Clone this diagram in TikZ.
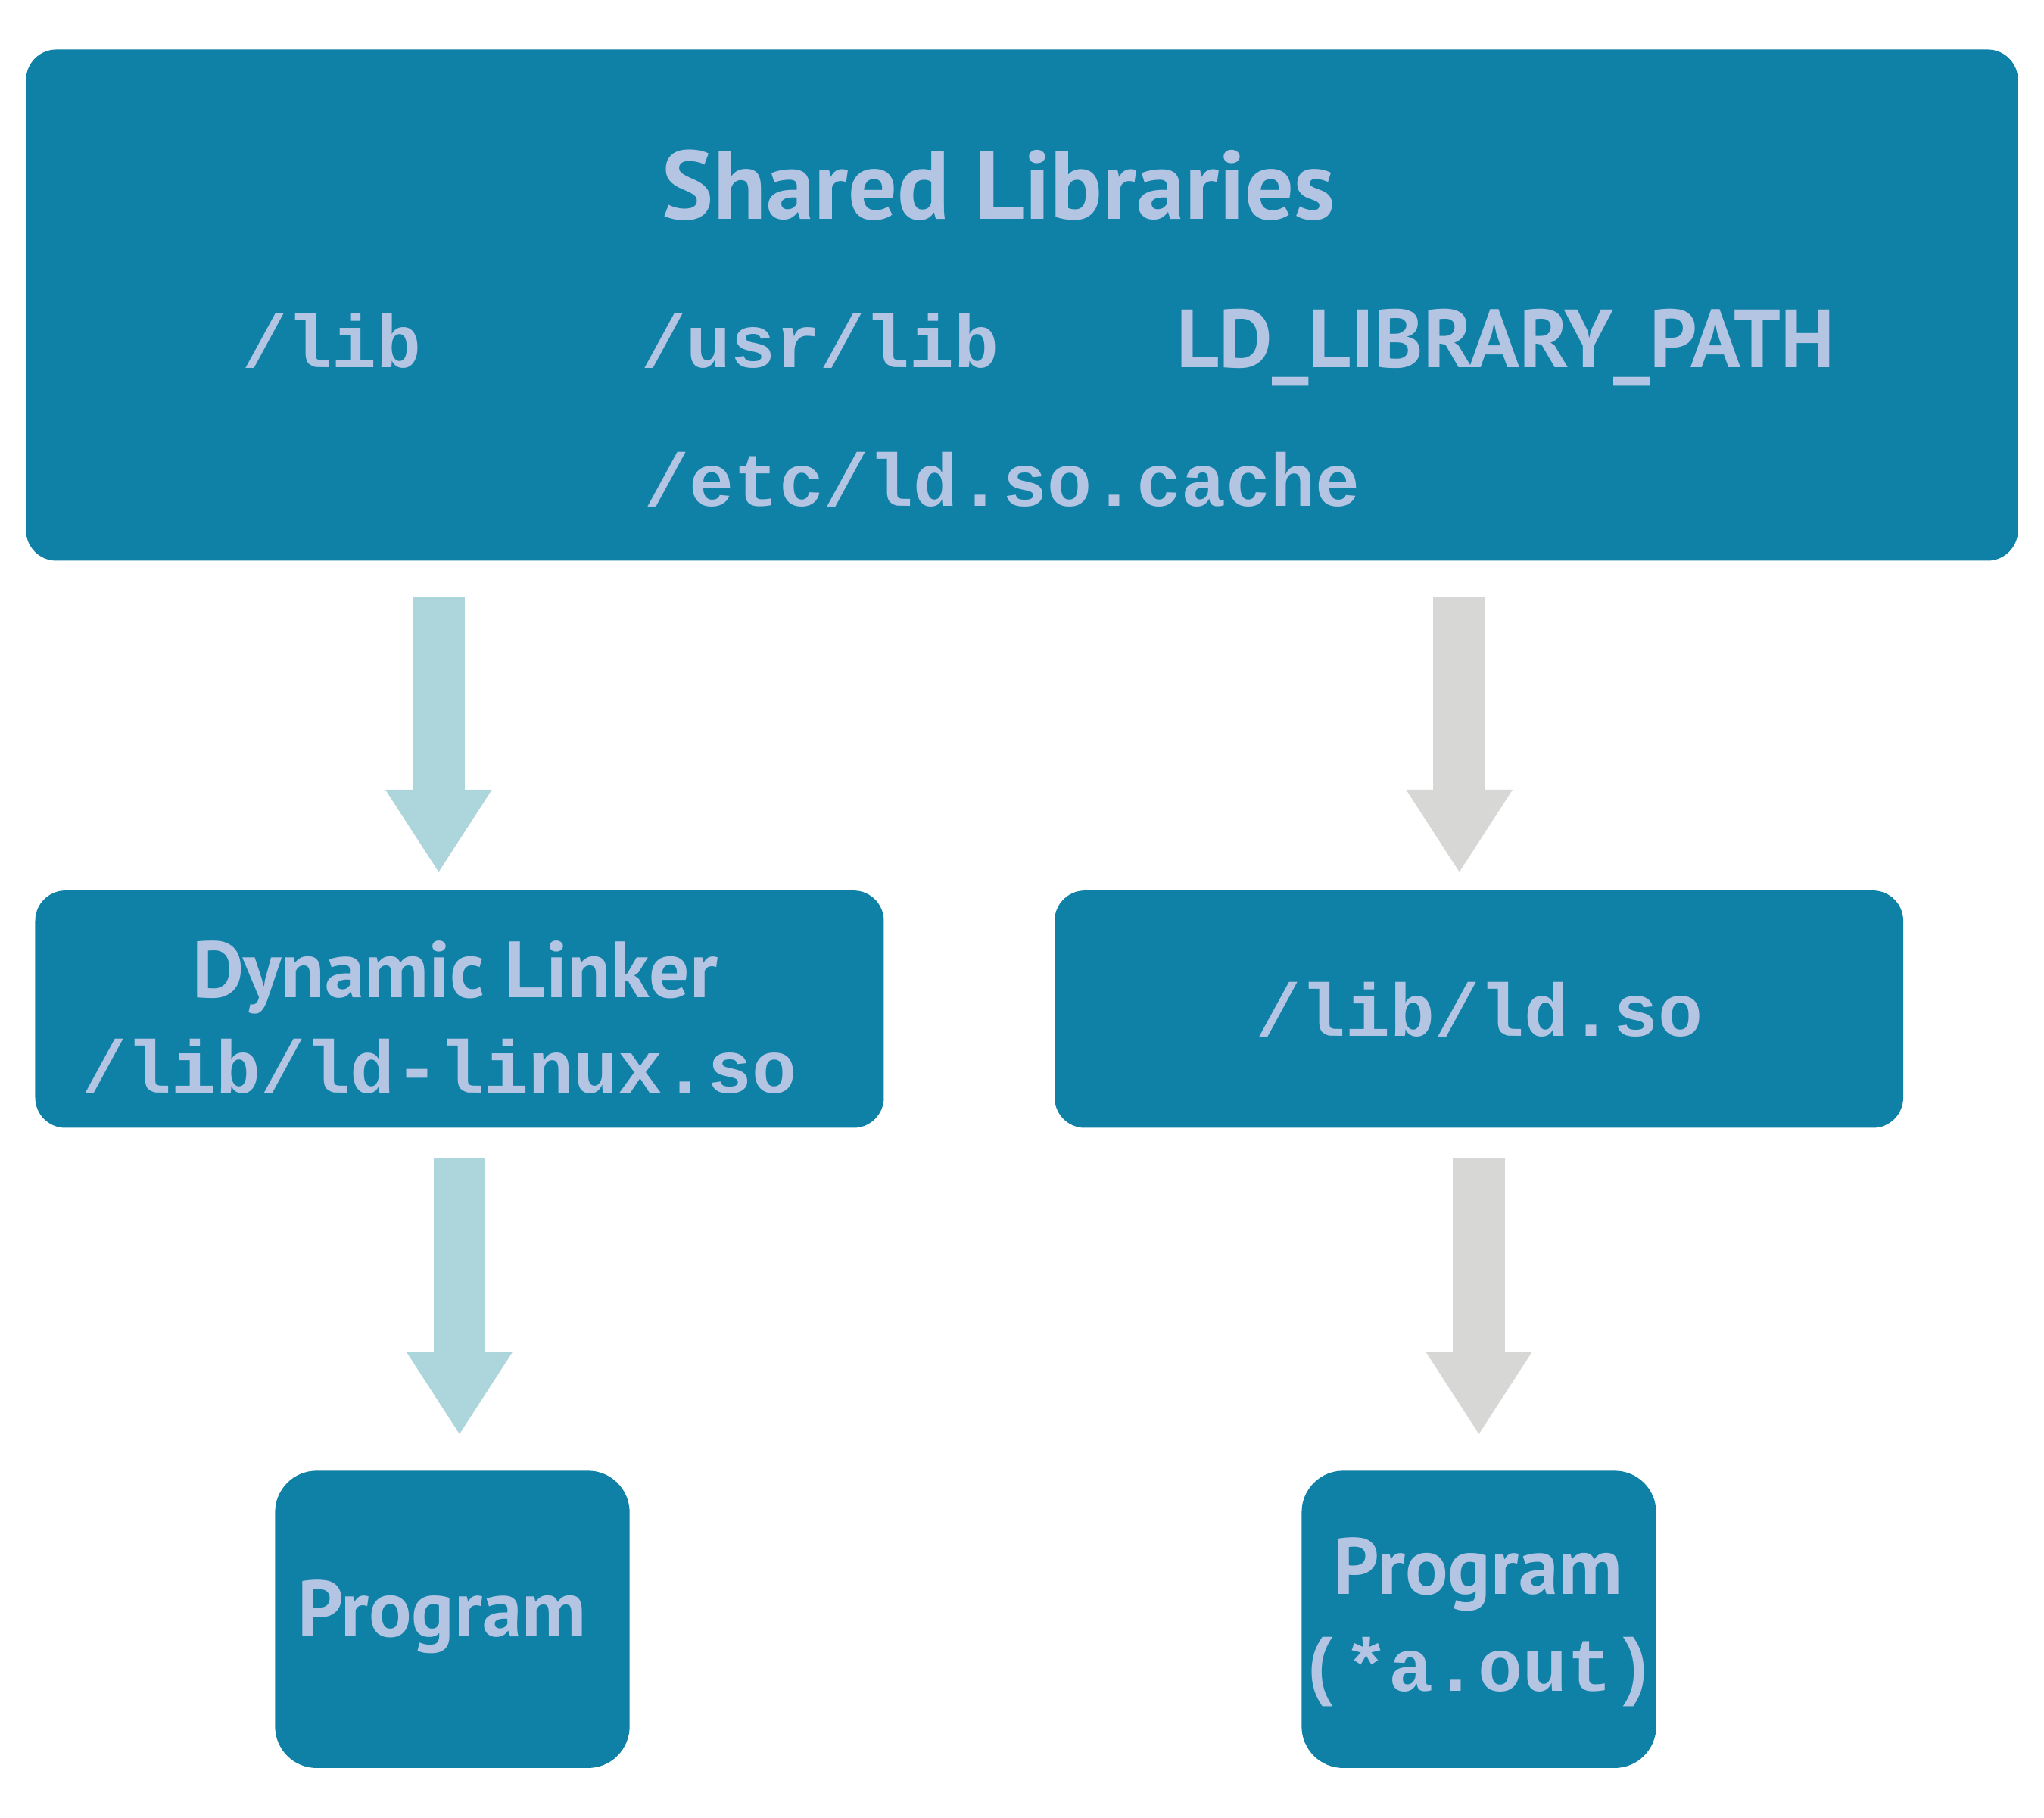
\documentclass[tikz,border=0pt]{standalone}
\usepackage{fontspec}
\newfontfamily\headfont{PT Sans}
\newfontfamily\codefont{Liberation Mono}
\usetikzlibrary{arrows.meta,positioning}
\definecolor{boxblue}{HTML}{0F81A6}
\definecolor{boxtext}{HTML}{B4C5E4}
\definecolor{arrteal}{HTML}{ACD6DB}
\definecolor{arrgray}{HTML}{D7D7D5}
\newcommand{\dpx}{0.01722cm}

\begin{document}
\begin{tikzpicture}[x=\dpx,y=-\dpx,
    box/.style={fill=boxblue,rounded corners=0.4cm,inner sep=0pt},
    head/.style={text=boxtext,anchor=base,inner sep=0pt,font=\headfont\bfseries\fontsize{30}{36}\selectfont},
    code/.style={text=boxtext,anchor=base,inner sep=0pt,font=\codefont\bfseries\fontsize{28}{34}\selectfont},
    flow/.style={line width=0.689cm,-{Triangle[length=1.102cm,width=1.326cm]}}]
        \useasboundingbox (0,0) rectangle (1568,1394);
        \node[box,minimum width=1528*\dpx,minimum height=392*\dpx] (shared) at (784,234) {};
        \node[box,minimum width=651*\dpx,minimum height=182*\dpx] (dyn) at (352.5,774) {};
        \node[box,minimum width=651*\dpx,minimum height=182*\dpx] (ld) at (1134.5,774) {};
        \node[box,rounded corners=0.55cm,minimum width=272*\dpx,minimum height=228*\dpx] (prog) at (347,1242) {};
        \node[box,rounded corners=0.55cm,minimum width=272*\dpx,minimum height=228*\dpx] (aout) at (1134.5,1242) {};

        \node[head,font=\headfont\bfseries\fontsize{36.5}{44}\selectfont] (title) at (766,168) {Shared Libraries};
        \node[code] (lib) at (254.5,282) {/lib};
        \node[code] (usrlib) at (629.5,282) {/usr/lib};
        \node[head,font=\headfont\bfseries\fontsize{31}{37}\selectfont] (ldlibpath) at (1155,282) {LD\_LIBRARY\_PATH};
        \node[code] (cache) at (769,388) {/etc/ld.so.cache};
        \node[head] (dyntitle) at (349,765) {Dynamic Linker};
        \node[code] (dynfile) at (337,838) {/lib/ld-linux.so};
        \node[code] (ldfile) at (1135,795) {/lib/ld.so};
        \node[head] (progtitle) at (339,1255) {Program};
        \node[head] (aouttitle) at (1134,1223) {Program};
        \node[code] (aoutfile) at (1134,1297) {(*a.out)};

        \draw[flow,arrteal,shorten <=0.482cm,shorten >=0.224cm]
            ([xshift=-16*\dpx]dyn.north |- shared.south) -- ([xshift=-16*\dpx]dyn.north);
        \draw[flow,arrgray,shorten <=0.482cm,shorten >=0.224cm]
            ([xshift=-15*\dpx]ld.north |- shared.south) -- ([xshift=-15*\dpx]ld.north);
        \draw[flow,arrteal,shorten <=0.396cm,shorten >=0.465cm]
            (dyn.south) -- (dyn.south |- prog.north);
        \draw[flow,arrgray,shorten <=0.396cm,shorten >=0.465cm]
            (ld.south) -- (ld.south |- aout.north);
    \end{tikzpicture}
\end{document}
